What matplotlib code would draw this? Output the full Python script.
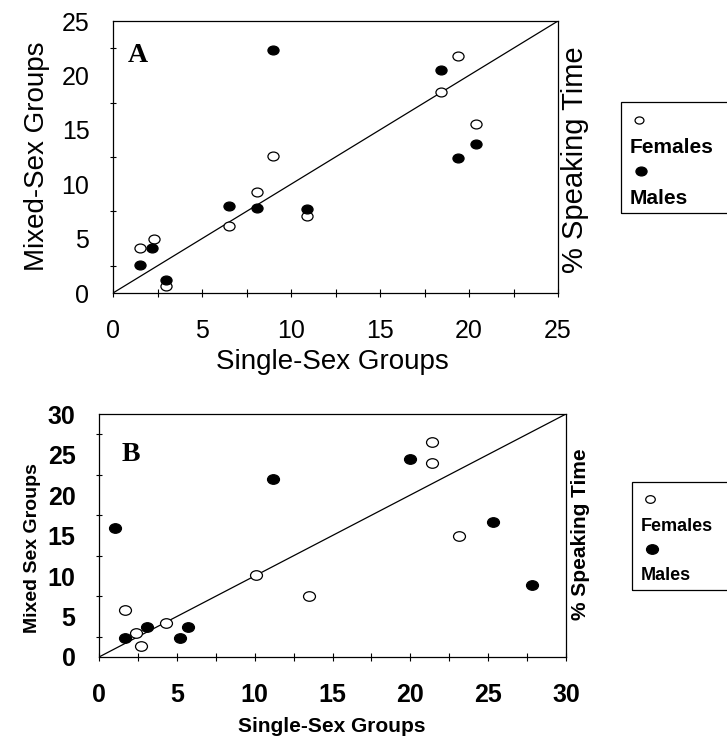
import numpy as np
import matplotlib
matplotlib.use("Agg")
import matplotlib.pyplot as plt
from matplotlib.path import Path
from matplotlib.patches import Rectangle
from matplotlib.lines import Line2D

plt.rcParams['font.family'] = ['Liberation Sans', 'DejaVu Sans']

# panel A: % speaking time, single-sex vs mixed-sex groups
a_fem_x = [19.4, 18.4, 20.4, 9.0, 8.1, 6.5, 10.9, 2.3, 1.5, 3.0]
a_fem_y = [21.8, 18.5, 15.5, 12.6, 9.3, 6.2, 7.1, 5.0, 4.1, 0.6]
a_mal_x = [9.0, 18.4, 19.4, 20.4, 6.5, 8.1, 10.9, 2.2, 1.5, 3.0]
a_mal_y = [22.3, 20.5, 12.4, 13.7, 8.0, 7.8, 7.7, 4.1, 2.6, 1.2]

# panel B
b_fem_x = [21.4, 21.4, 23.1, 10.1, 13.5, 1.7, 4.3, 2.4, 2.7]
b_fem_y = [26.5, 23.9, 15.0, 10.1, 7.5, 5.8, 4.2, 3.0, 1.4]
b_mal_x = [1.0, 11.2, 20.0, 25.3, 27.8, 1.7, 3.1, 5.2, 5.7]
b_mal_y = [15.9, 22.0, 24.4, 16.7, 8.9, 2.4, 3.7, 2.4, 3.7]

a_max = 25
b_max = 30

# slightly flattened circle, like the scanned markers
circ = Path.unit_circle()
ell = Path(circ.vertices * [1.0, 0.8], circ.codes)


def setup_axes(ax, vmax, weight, label_size):
    ax.set_xlim(0, vmax)
    ax.set_ylim(0, vmax)
    ax.set_xticks(np.arange(0, vmax + 1, 5))
    ax.set_xticks(np.arange(2.5, vmax, 5), minor=True)
    ax.set_yticks(np.arange(0, vmax + 1, 5))
    ax.set_yticks(np.arange(2.5, vmax, 5), minor=True)
    ax.tick_params(axis='x', which='both', direction='inout', length=6, width=0.8, pad=16, labelsize=label_size)
    ax.tick_params(axis='y', which='major', length=0, pad=17, labelsize=label_size)
    ax.tick_params(axis='y', which='minor', direction='inout', length=5, width=0.8)
    for lab in ax.get_xticklabels() + ax.get_yticklabels():
        lab.set_fontweight(weight)
    for sp in ax.spines.values():
        sp.set_linewidth(0.9)
    ax.plot([0, vmax], [0, vmax], color='black', lw=0.9)


def legend_box(x0, y0, y1, ms, fs):
    # legend drawn in pixel-ish figure coords, box runs off the right edge
    W, H = 727.0, 737.0
    fig.add_artist(Rectangle((x0 / W, 1 - y1 / H), (760 - x0) / W, (y1 - y0) / H,
                             transform=fig.transFigure, fill=False, lw=0.9,
                             edgecolor='black', clip_on=False))
    h = y1 - y0
    fig.add_artist(Line2D([(x0 + 18) / W], [1 - (y0 + 0.16 * h) / H], marker=ell, ms=ms * 0.8,
                          mfc='white', mec='black', mew=0.9, transform=fig.transFigure))
    fig.text((x0 + 9) / W, 1 - (y0 + 0.41 * h) / H, 'Females', fontsize=fs,
             fontweight='bold', va='center', ha='left')
    fig.add_artist(Line2D([(x0 + 20) / W], [1 - (y0 + 0.62 * h) / H], marker=ell, ms=ms,
                          mfc='black', mec='black', mew=0.9, transform=fig.transFigure))
    fig.text((x0 + 9) / W, 1 - (y0 + 0.87 * h) / H, 'Males', fontsize=fs,
             fontweight='bold', va='center', ha='left')


fig = plt.figure(figsize=(7.27, 7.37), dpi=100)

# ---- panel A ----
axA = fig.add_axes([113 / 727, 1 - 293 / 737, 445 / 727, 272 / 737])
setup_axes(axA, a_max, 'normal', 18)
axA.plot(a_fem_x, a_fem_y, ls='none', marker=ell, ms=8, mfc='white', mec='black', mew=0.9)
axA.plot(a_mal_x, a_mal_y, ls='none', marker=ell, ms=8, mfc='black', mec='black', mew=0.9)
axA.set_xlabel('Single-Sex Groups', fontsize=20, va='center')
axA.xaxis.set_label_coords(0.492, -0.254)
axA.set_ylabel('Mixed-Sex Groups', fontsize=20, va='center')
axA.yaxis.set_label_coords(-0.171, 0.504)
axA.text(0.034, 0.875, 'A', transform=axA.transAxes, fontsize=20, fontweight='bold',
         family=['Liberation Serif'], ha='left', va='center')
fig.text(575 / 727, 1 - 160 / 737, '% Speaking Time', rotation=90, fontsize=21,
         ha='center', va='center')
legend_box(621, 102, 213, 8, 15)

# ---- panel B ----
axB = fig.add_axes([99 / 727, 1 - 657 / 737, 467 / 727, 243 / 737])
setup_axes(axB, b_max, 'bold', 18)
axB.plot(b_fem_x, b_fem_y, ls='none', marker=ell, ms=8.6, mfc='white', mec='black', mew=0.9)
axB.plot(b_mal_x, b_mal_y, ls='none', marker=ell, ms=8.6, mfc='black', mec='black', mew=0.9)
axB.set_xlabel('Single-Sex Groups', fontsize=15, fontweight='bold', va='center')
axB.xaxis.set_label_coords(0.498, -0.288)
axB.set_ylabel('Mixed Sex Groups', fontsize=14, fontweight='bold', va='center')
axB.yaxis.set_label_coords(-0.143, 0.45)
axB.text(0.048, 0.835, 'B', transform=axB.transAxes, fontsize=20, fontweight='bold',
         family=['Liberation Serif'], ha='left', va='center')
fig.text(580 / 727, 1 - 534 / 737, '% Speaking Time', rotation=90, fontsize=15,
         fontweight='bold', ha='center', va='center')
legend_box(632, 482, 590, 8.6, 13)

fig.savefig('out.png', dpi=100)
